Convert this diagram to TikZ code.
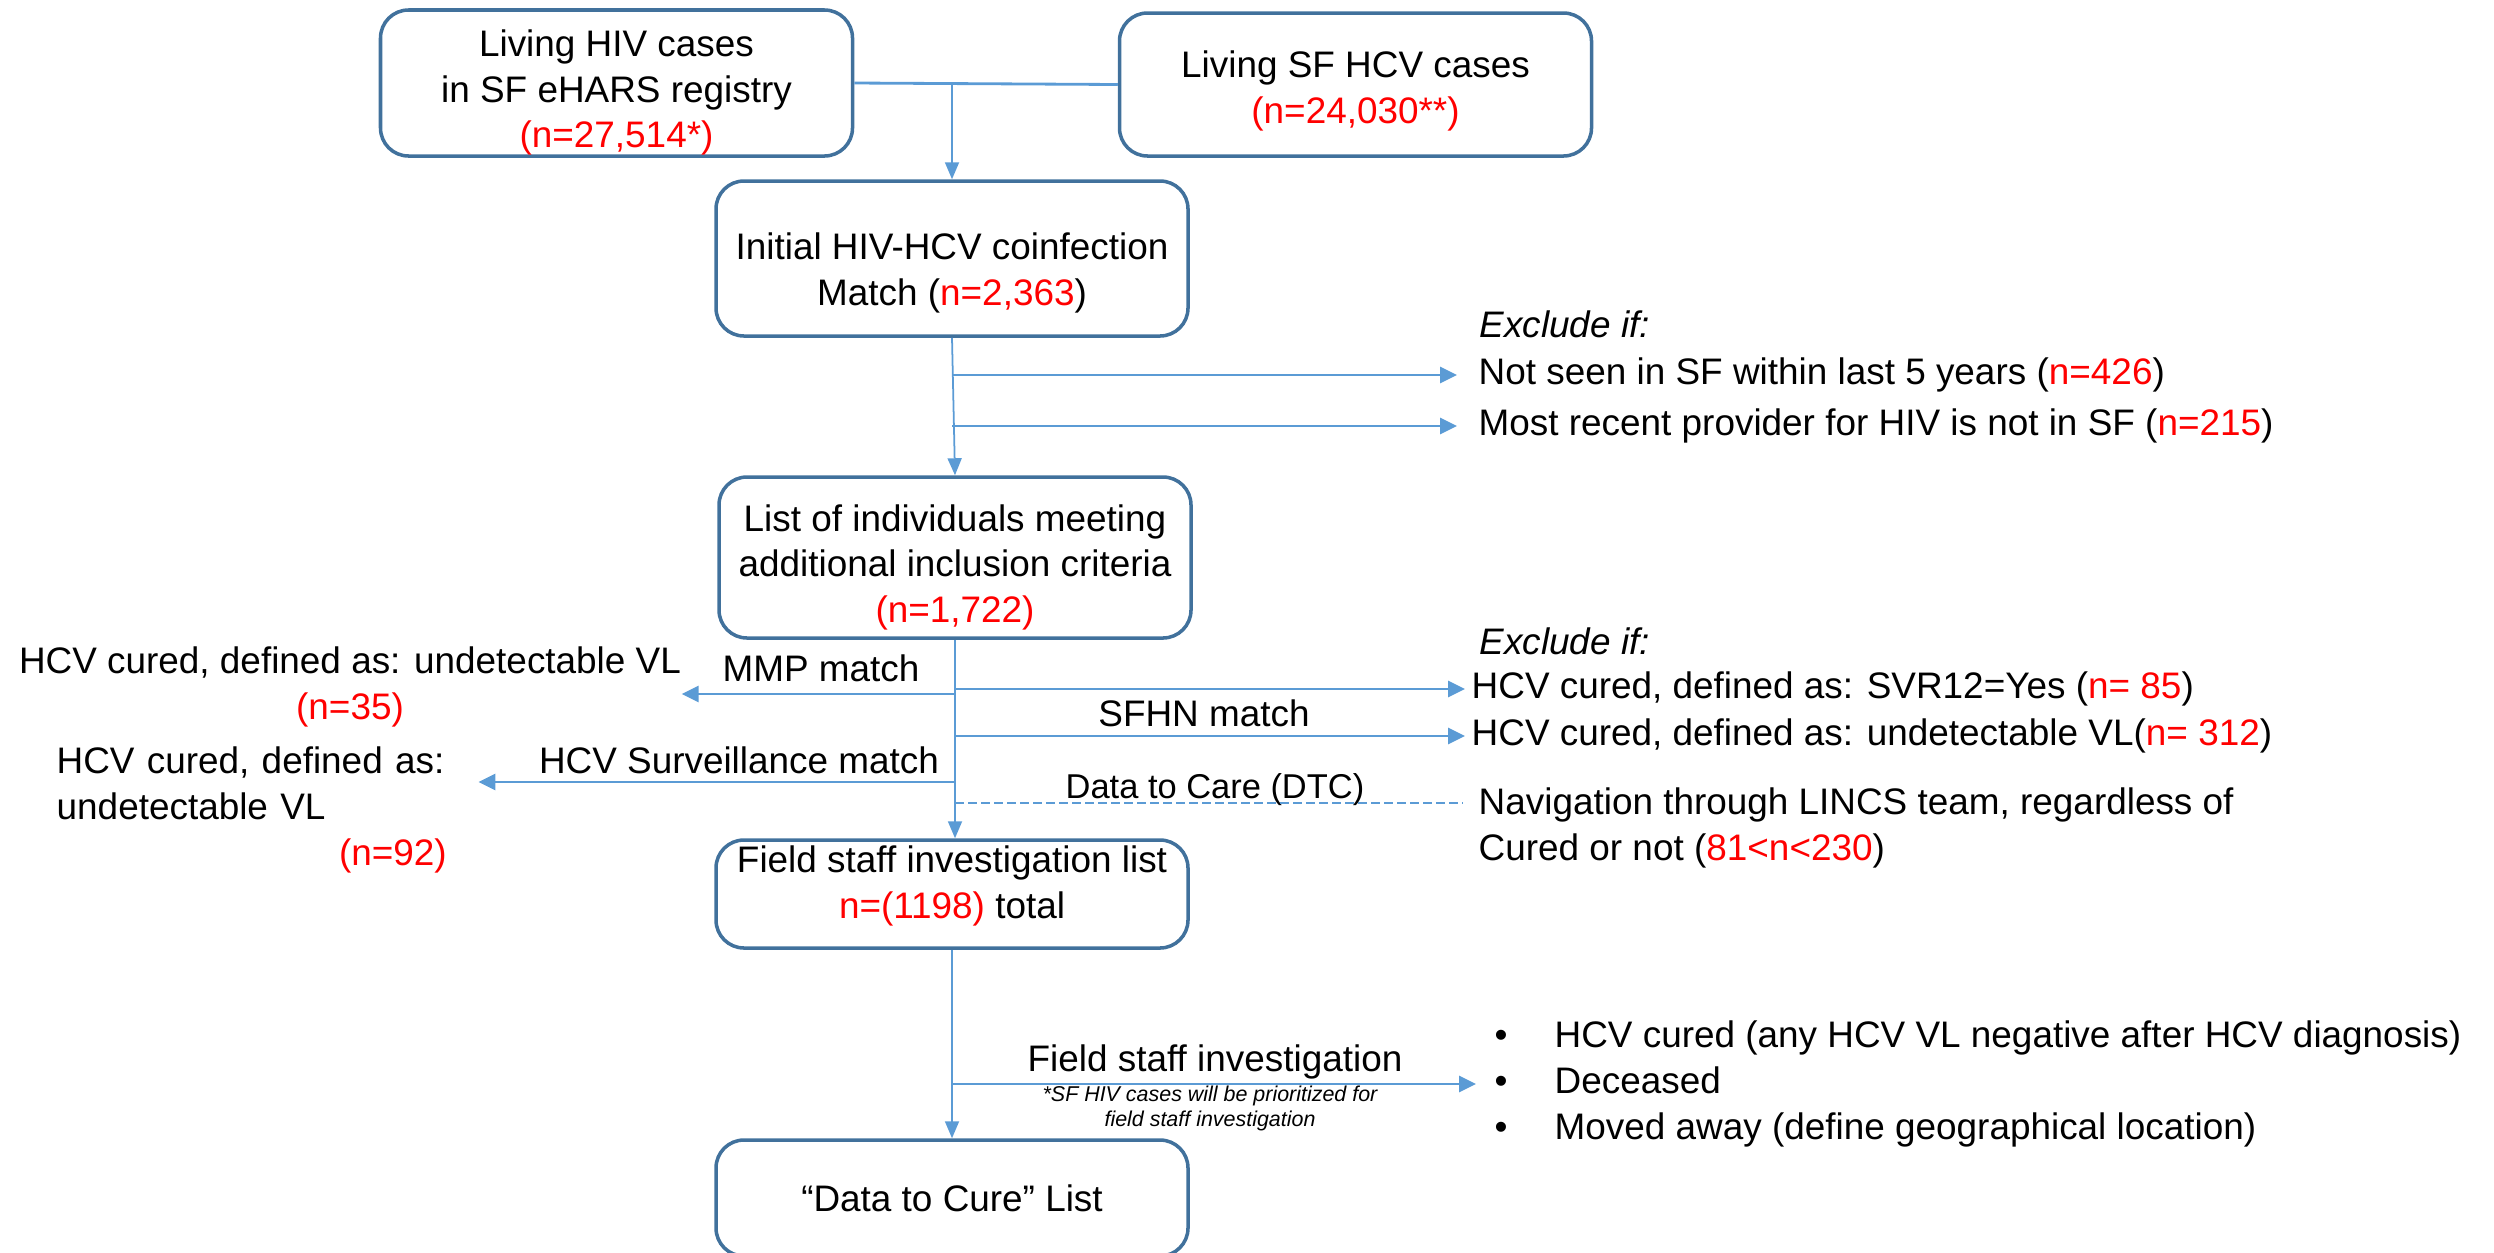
\documentclass[tikz,border=0pt]{standalone}
\usepackage{fontspec}
\setmainfont{Liberation Sans}
\usetikzlibrary{arrows.meta}

\definecolor{boxblue}{RGB}{65,113,156}
\definecolor{lineblue}{RGB}{91,155,213}
\definecolor{nred}{RGB}{255,0,0}
\newcommand{\nn}[1]{\textcolor{nred}{#1}}
\newcommand{\bul}{\makebox[0.6cm][l]{\textbullet}}
\newcommand{\tallrow}[1]{\rule{0pt}{#1}}
\newcommand{\deeprow}[1]{\rule[-#1]{0pt}{0.1pt}}

\tikzset{
  stage/.style={draw=boxblue, line width=1pt, rounded corners=0.28cm, inner ysep=0pt,
    minimum width=4.72cm, align=center, font=\fontsize{10.5}{13}\selectfont},
  note/.style={align=left, inner sep=0pt, font=\fontsize{10.5}{13}\selectfont},
  hint/.style={note, font=\fontsize{10.5}{13}\selectfont\itshape},
  flow/.style={draw=lineblue, line width=0.5pt, -{Triangle[length=0.17cm,width=0.14cm]}},
  branch/.style={draw=lineblue, line width=0.8pt, -{Triangle[length=0.17cm,width=0.16cm]}},
}

\begin{document}
\begin{tikzpicture}
      \useasboundingbox (0,0) rectangle (24.94,-12.52);
      % boxes
      \node[stage, minimum height=1.46cm] (hiv) at (6.165,-0.83) {\tallrow{0.46cm}Living HIV cases\\in SF eHARS registry\\\nn{(n=27,514*)}};
      \node[stage, minimum height=1.43cm] (hcv) at (13.555,-0.845) {\tallrow{0.39cm}Living SF HCV cases\\\nn{(n=24,030**)}};
      \node[stage, minimum height=1.55cm] (init) at (9.52,-2.585) {\tallrow{0.55cm}Initial HIV-HCV coinfection\\Match (\nn{n=2,363})};
      \node[stage, minimum height=1.61cm] (list) at (9.55,-5.575) {\tallrow{0.46cm}List of individuals meeting\\additional inclusion criteria\\\nn{(n=1,722)}};
      \node[stage, minimum height=1.08cm] (field) at (9.52,-8.94) {Field staff investigation list\\\nn{n=(1198)} total\deeprow{0.24cm}};
      \node[stage, minimum height=1.16cm] (cure) at (9.52,-11.98) {“Data to Cure” List};
      % exclusions and outcomes
      \node[hint, anchor=west] (ex1) at (14.79,-3.24) {Exclude if:};
      \node[note, anchor=west] (seen) at (14.78,-3.75) {Not seen in SF within last 5 years (\nn{n=426})};
      \node[note, anchor=west] (prov) at (14.78,-4.26) {Most recent provider for HIV is not in SF (\nn{n=215})};
      \node[hint, anchor=west] (ex2) at (14.79,-6.41) {Exclude if:};
      \node[note, anchor=west] (svr) at (14.71,-6.89) {HCV cured, defined as: SVR12=Yes (\nn{n= 85})};
      \node[note, anchor=west] (vl) at (14.71,-7.36) {HCV cured, defined as: undetectable VL(\nn{n= 312})};
      \node[note, anchor=west] (nav) at (14.78,-8.28) {Navigation through LINCS team, regardless of\\Cured or not (\nn{81<n<230})};
      \node[note, align=center] (mmpcured) at (3.50,-6.87) {HCV cured, defined as: undetectable VL\\\nn{(n=35)}};
      \node[note, text width=3.9cm, anchor=west] (survcured) at (0.56,-8.10) {HCV cured, defined as:\\undetectable VL\\\hfill\nn{(n=92)}};
      \node[note, anchor=west] (out) at (14.94,-10.84) {\bul HCV cured (any HCV VL negative after HCV diagnosis)\\\bul Deceased\\\bul Moved away (define geographical location)};
      % connector labels
      \node[note] (mmp) at (8.21,-6.68) {MMP match};
      \node[note] (sfhn) at (12.04,-7.13) {SFHN match};
      \node[note] (surv) at (7.39,-7.60) {HCV Surveillance match};
      \node[note, font=\fontsize{9.8}{12}\selectfont] (dtc) at (12.15,-7.90) {Data to Care (DTC)};
      \node[note] (fsi) at (12.15,-10.62) {Field staff investigation};
      \node[note, align=center, font=\fontsize{6.1}{7.1}\selectfont\itshape] (prio) at (12.10,-11.085) {*SF HIV cases will be prioritized for\\field staff investigation};
      \coordinate (join) at (init.north |- hiv.east);
      \coordinate (m1) at (list.south |- 0,-6.94);
      \coordinate (s1) at (list.south |- 0,-7.82);
      \coordinate (d1) at (list.south |- 0,-8.03);
      \begin{scope}[lineblue]
        \draw[line width=0.8pt] (hiv.east) -- (hcv.west);
        \draw[flow] (join) -- (init.north);
        \draw[flow] (init.south) -- (list.north);
        \draw[branch, shorten >=0.21cm] (init.south |- seen.west) -- (seen.west);
        \draw[branch, shorten >=0.21cm] (init.south |- prov.west) -- (prov.west);
        \draw[flow] (list.south) -- (list.south |- field.north);
        \draw[branch] (m1) -- (m1 -| mmpcured.east);
        \draw[branch, shorten >=0.06cm] (list.south |- svr.west) -- (svr.west);
        \draw[branch, shorten >=0.06cm] (list.south |- vl.west) -- (vl.west);
        \draw[branch, shorten >=0.31cm] (s1) -- (s1 -| survcured.east);
        \draw[line width=0.8pt, dash pattern=on 2.5pt off 1.2pt, shorten >=0.15cm] (d1) -- (d1 -| nav.west);
        \draw[flow] (field.south) -- (cure.north);
        \draw[branch, shorten >=0.18cm] (field.south |- out.west) -- (out.west);
      \end{scope}
    \end{tikzpicture}
\end{document}
